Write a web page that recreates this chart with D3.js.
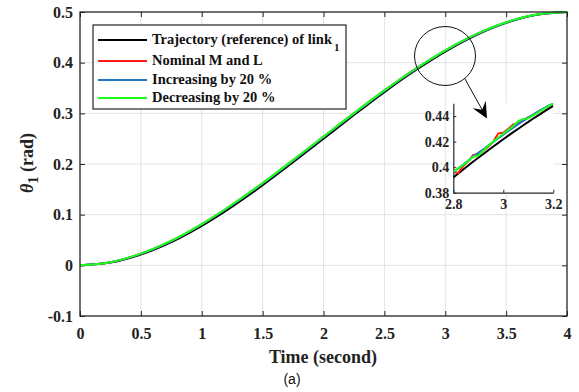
<!DOCTYPE html>
<html>
<head>
<meta charset="utf-8">
<script src="https://cdn.jsdelivr.net/npm/d3@7"></script>
<style>
  body { margin: 0; background: #fff; }
  svg { display: block; }
</style>
</head>
<body>
<div id="chart"></div>
<script>
// main curve, sampled every 0.25 s
const time = [0, 0.25, 0.5, 0.75, 1, 1.25, 1.5, 1.75, 2, 2.25, 2.5, 2.75, 3, 3.25, 3.5, 3.75, 4];
const reference  = [0, 0.0056, 0.0215, 0.0461, 0.0781, 0.1160, 0.1582, 0.2034, 0.2500, 0.2966, 0.3418, 0.3840, 0.4219, 0.4539, 0.4785, 0.4944, 0.5000];
const nominal    = [0, 0.0060, 0.0228, 0.0482, 0.0810, 0.1195, 0.1620, 0.2072, 0.2536, 0.3000, 0.3448, 0.3866, 0.4240, 0.4555, 0.4795, 0.4948, 0.5000];
const increasing = [0, 0.0059, 0.0226, 0.0479, 0.0806, 0.1190, 0.1615, 0.2067, 0.2531, 0.2995, 0.3444, 0.3862, 0.4237, 0.4553, 0.4794, 0.4947, 0.5000];
const decreasing = [0, 0.0062, 0.0231, 0.0486, 0.0815, 0.1201, 0.1626, 0.2078, 0.2542, 0.3005, 0.3453, 0.3870, 0.4244, 0.4558, 0.4797, 0.4949, 0.5000];

// zoomed part 2.8 - 3.2 s, every 0.02 s
const zoomTime = [2.80, 2.82, 2.84, 2.86, 2.88, 2.90, 2.92, 2.94, 2.96, 2.98, 3.00, 3.02, 3.04, 3.06, 3.08, 3.10, 3.12, 3.14, 3.16, 3.18, 3.20];
const zoomReference  = [0.3920, 0.3951, 0.3982, 0.4013, 0.4044, 0.4074, 0.4103, 0.4133, 0.4162, 0.4190, 0.4219, 0.4247, 0.4274, 0.4301, 0.4328, 0.4355, 0.4381, 0.4406, 0.4431, 0.4456, 0.4480];
const zoomNominal    = [0.3962, 0.3955, 0.4010, 0.4045, 0.4095, 0.4100, 0.4128, 0.4160, 0.4200, 0.4265, 0.4270, 0.4300, 0.4335, 0.4345, 0.4368, 0.4390, 0.4410, 0.4433, 0.4456, 0.4478, 0.4497];
const zoomIncreasing = [0.3960, 0.3990, 0.4020, 0.4052, 0.4083, 0.4112, 0.4140, 0.4170, 0.4198, 0.4227, 0.4255, 0.4283, 0.4310, 0.4337, 0.4363, 0.4388, 0.4412, 0.4436, 0.4459, 0.4481, 0.4495];
const zoomDecreasing = [0.3965, 0.3990, 0.4018, 0.4050, 0.4082, 0.4090, 0.4130, 0.4165, 0.4200, 0.4232, 0.4262, 0.4292, 0.4322, 0.4360, 0.4378, 0.4382, 0.4405, 0.4430, 0.4455, 0.4478, 0.4500];

const xTicks = [0, 0.5, 1, 1.5, 2, 2.5, 3, 3.5, 4];
const yTicks = [-0.1, 0, 0.1, 0.2, 0.3, 0.4, 0.5];
const zoomXTicks = [2.8, 3, 3.2];
const zoomYTicks = [0.38, 0.4, 0.42, 0.44];

const seriesNames = ["Trajectory (reference) of link", "Nominal M and L", "Increasing by 20 %", "Decreasing by 20 %"];
const colors = ["#000000", "#ff1a1a", "#1f77c4", "#1aff1a"];

const W = 579, H = 392;
const serif = "'Liberation Serif', 'Times New Roman', serif";
const frame = "#262626";
const plain = d => String(d);

const svg = d3.select("#chart").append("svg")
    .attr("width", W)
    .attr("height", H);

// main axes area
const pLeft = 80, pRight = 567, pTop = 12, pBottom = 316;
const x = d3.scaleLinear().domain([0, 4]).range([pLeft, pRight]);
const y = d3.scaleLinear().domain([-0.1, 0.5]).range([pBottom, pTop]);

// grid
svg.append("g").selectAll("line").data(xTicks.slice(1, -1)).join("line")
    .attr("x1", d => x(d)).attr("x2", d => x(d))
    .attr("y1", pTop).attr("y2", pBottom)
    .attr("stroke", "#e3e3e3").attr("stroke-width", 1);
svg.append("g").selectAll("line").data(yTicks.slice(1, -1)).join("line")
    .attr("y1", d => y(d)).attr("y2", d => y(d))
    .attr("x1", pLeft).attr("x2", pRight)
    .attr("stroke", "#e3e3e3").attr("stroke-width", 1);

// axes with inward ticks (matlab style)
function styleAxis(g) {
    g.attr("font-family", serif).attr("font-weight", "bold").attr("font-size", 16);
    g.select(".domain").remove();
    g.selectAll(".tick line").attr("stroke", frame).attr("stroke-width", 1);
    g.selectAll(".tick text").attr("fill", "#222");
}

svg.append("g")
    .attr("transform", `translate(0,${pBottom})`)
    .call(d3.axisBottom(x).tickValues(xTicks).tickFormat(plain).tickSizeInner(-5).tickPadding(12))
    .call(styleAxis);
svg.append("g")
    .attr("transform", `translate(0,${pTop})`)
    .call(d3.axisTop(x).tickValues(xTicks).tickFormat("").tickSizeInner(-5))
    .call(styleAxis);
svg.append("g")
    .attr("transform", `translate(${pLeft},0)`)
    .call(d3.axisLeft(y).tickValues(yTicks).tickFormat(plain).tickSizeInner(-5).tickPadding(7))
    .call(styleAxis);
svg.append("g")
    .attr("transform", `translate(${pRight},0)`)
    .call(d3.axisRight(y).tickValues(yTicks).tickFormat("").tickSizeInner(-5))
    .call(styleAxis);

// lines
const mainSeries = [reference, nominal, increasing, decreasing];
const line = d3.line()
    .x((d, i) => x(time[i]))
    .y(d => y(d))
    .curve(d3.curveCatmullRom);

mainSeries.forEach((vals, k) => {
    svg.append("path")
        .datum(vals)
        .attr("fill", "none")
        .attr("stroke", colors[k])
        .attr("stroke-width", 2)
        .attr("d", line);
});

// frame
svg.append("rect")
    .attr("x", pLeft).attr("y", pTop)
    .attr("width", pRight - pLeft).attr("height", pBottom - pTop)
    .attr("fill", "none").attr("stroke", frame).attr("stroke-width", 1.3);

// axis labels
svg.append("text")
    .attr("x", 323).attr("y", 363)
    .attr("text-anchor", "middle")
    .style("font-family", serif).style("font-weight", "bold").style("font-size", "18px")
    .attr("fill", "#222")
    .text("Time (second)");

const yl = svg.append("text")
    .attr("transform", "translate(33,163) rotate(-90)")
    .attr("text-anchor", "middle")
    .style("font-family", serif).style("font-weight", "bold").style("font-size", "18px")
    .attr("fill", "#222");
yl.append("tspan").style("font-style", "italic").text("θ");
yl.append("tspan").attr("dy", 5).style("font-size", "14px").text("1");
yl.append("tspan").attr("dy", -5).text(" (rad)");

svg.append("text")
    .attr("x", 292).attr("y", 384)
    .attr("text-anchor", "middle")
    .style("font-family", "'Liberation Sans', Arial, sans-serif").style("font-size", "14px")
    .attr("fill", "#111")
    .text("(a)");

// legend
const legend = svg.append("g");
legend.append("rect")
    .attr("x", 93).attr("y", 25)
    .attr("width", 253).attr("height", 84)
    .attr("fill", "#fff").attr("stroke", frame).attr("stroke-width", 1.2);
const rowY = [40, 61, 80, 98];
seriesNames.forEach((name, k) => {
    legend.append("line")
        .attr("x1", 98).attr("x2", 147)
        .attr("y1", rowY[k]).attr("y2", rowY[k])
        .attr("stroke", colors[k]).attr("stroke-width", 2);
    const t = legend.append("text")
        .attr("x", 152).attr("y", rowY[k] + 4)
        .style("font-family", serif).style("font-weight", "bold").style("font-size", "14.5px")
        .attr("fill", "#111")
        .text(name);
    if (k === 0) {
        t.append("tspan").attr("dy", 7).attr("dx", 2).style("font-size", "11px").text("1");
    }
});

// zoom circle
svg.append("ellipse")
    .attr("cx", 445).attr("cy", 56)
    .attr("rx", 30.5).attr("ry", 29.5)
    .attr("fill", "none").attr("stroke", "#111").attr("stroke-width", 1);

// inset
const il = 453.3, ir = 553.3, it = 103.3, ib = 192.7;
const zx = d3.scaleLinear().domain([2.8, 3.2]).range([il, ir]);
const zy = d3.scaleLinear().domain([0.38, 0.45]).range([ib, it]);

const inset = svg.append("g");
inset.append("rect")
    .attr("x", il).attr("y", it)
    .attr("width", ir - il).attr("height", ib - it)
    .attr("fill", "#fff");

svg.append("defs").append("clipPath").attr("id", "insetClip")
    .append("rect").attr("x", il).attr("y", it).attr("width", ir - il).attr("height", ib - it);

function styleInsetAxis(g) {
    g.attr("font-family", serif).attr("font-weight", "bold").attr("font-size", 14);
    g.select(".domain").attr("stroke", frame).attr("stroke-width", 1.2);
    g.selectAll(".tick line").attr("stroke", frame);
    g.selectAll(".tick text").attr("fill", "#222");
}

inset.append("g")
    .attr("transform", `translate(0,${ib})`)
    .call(d3.axisBottom(zx).tickValues(zoomXTicks).tickFormat(plain).tickSizeInner(-3).tickSizeOuter(0).tickPadding(6))
    .call(styleInsetAxis);
inset.append("g")
    .attr("transform", `translate(${il},0)`)
    .call(d3.axisLeft(zy).tickValues(zoomYTicks).tickFormat(plain).tickSizeInner(-3).tickSizeOuter(0).tickPadding(4))
    .call(styleInsetAxis);

const zoomSeries = [zoomReference, zoomNominal, zoomIncreasing, zoomDecreasing];
const zline = d3.line()
    .x((d, i) => zx(zoomTime[i]))
    .y(d => zy(d));

zoomSeries.forEach((vals, k) => {
    inset.append("path")
        .datum(vals)
        .attr("clip-path", "url(#insetClip)")
        .attr("fill", "none")
        .attr("stroke", colors[k])
        .attr("stroke-width", 2)
        .attr("d", zline);
});

// arrow from circle to inset (drawn on top)
const ax1 = 465, ay1 = 79, ax2 = 487, ay2 = 118.5;
const ang = Math.atan2(ay2 - ay1, ax2 - ax1);
svg.append("line")
    .attr("x1", ax1).attr("y1", ay1)
    .attr("x2", ax2 - 8 * Math.cos(ang)).attr("y2", ay2 - 8 * Math.sin(ang))
    .attr("stroke", "#111").attr("stroke-width", 1);
svg.append("path")
    .attr("transform", `translate(${ax2},${ay2}) rotate(${ang * 180 / Math.PI})`)
    .attr("d", "M0,0 L-16,-7.5 L-10,0 L-16,7.5 Z")
    .attr("fill", "#000");
</script>
</body>
</html>
